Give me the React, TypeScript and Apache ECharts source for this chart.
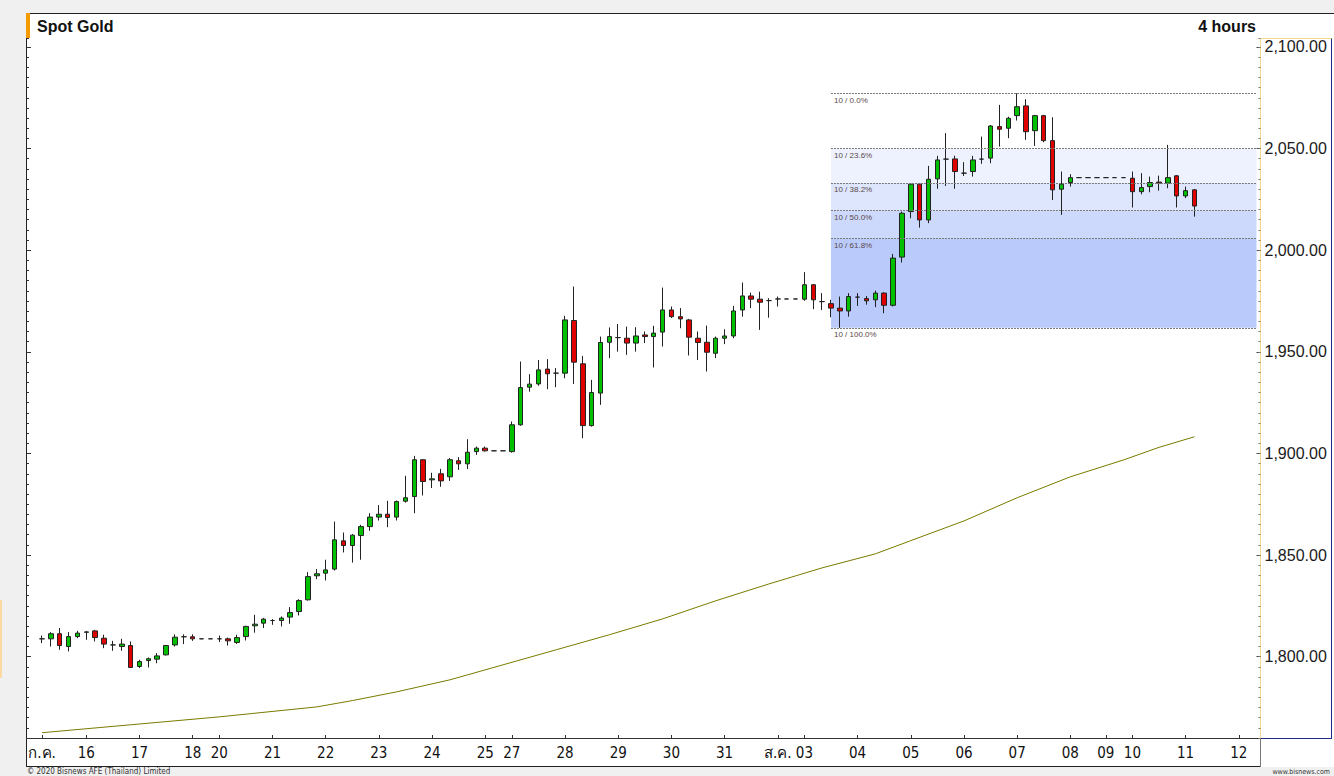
import React, { useEffect, useRef } from 'react';
import * as echarts from 'echarts';

// ---- x-axis days (label, number of 4-hour slots) ----
const dayLabels = ['ก.ค.', '16', '17', '18', '20', '21', '22', '23', '24', '25', '27', '28', '29', '30', '31', 'ส.ค.', '03', '04', '05', '06', '07', '08', '09', '10', '11', '12'];
const dayCounts = [5, 6, 6, 3, 6, 6, 6, 6, 6, 3, 6, 6, 6, 6, 6, 3, 6, 6, 6, 6, 6, 4, 3, 6, 6, 3];

// ---- 4-hour candles (slot 0 .. 130) ----
const opens = [
  1808.8, 1808.8, 1811.3, 1805.0, 1809.9, 1812.0, 1812.7, 1809.1, 1805.8, 1805.0,
  1805.5, 1795.2, 1798.1, 1798.8, 1800.9, 1805.8, 1809.8, 1809.8, 1808.8, 1808.8,
  1808.8, 1808.8, 1807.0, 1809.9, 1815.2, 1816.5, 1817.8, 1817.8, 1819.5, 1822.2,
  1828.0, 1839.8, 1841.1, 1843.1, 1857.0, 1854.7, 1859.6, 1864.0, 1868.7, 1870.1,
  1868.7, 1876.5, 1878.8, 1896.9, 1887.0, 1890.0, 1888.5, 1896.4, 1894.9, 1900.9,
  1902.6, 1901.3, 1901.3, 1900.9, 1914.1, 1932.6, 1934.2, 1941.5, 1939.5, 1939.5,
  1965.4, 1944.1, 1913.7, 1929.7, 1954.7, 1957.0, 1956.7, 1954.3, 1958.3, 1957.5,
  1959.7, 1970.6, 1967.3, 1965.7, 1956.7, 1954.7, 1949.3, 1956.7, 1957.8, 1970.6,
  1977.5, 1975.9, 1975.2, 1976.0, 1976.0, 1976.0, 1975.9, 1983.0, 1974.7, 1973.7,
  1971.5, 1970.1, 1976.9, 1976.2, 1975.6, 1978.9, 1972.9, 1996.6, 2019.0, 2032.5,
  2014.9, 2035.1, 2044.8, 2044.9, 2037.9, 2038.7, 2044.8, 2045.3, 2060.8, 2060.0,
  2066.2, 2071.0, 2058.8, 2066.2, 2053.9, 2030.0, 2033.3, 2035.7, 2035.7, 2035.7,
  2035.7, 2035.7, 2035.7, 2035.4, 2028.8, 2031.3, 2033.5, 2033.0, 2036.6, 2026.7,
  2029.7,
];
const closes = [
  1808.8, 1811.3, 1805.5, 1809.9, 1811.6, 1812.2, 1809.4, 1806.2, 1805.8, 1806.2,
  1794.7, 1797.6, 1799.0, 1800.4, 1805.5, 1809.6, 1809.8, 1808.8, 1808.8, 1808.8,
  1808.8, 1807.8, 1809.4, 1814.9, 1816.0, 1818.5, 1817.8, 1819.0, 1821.7, 1827.6,
  1839.4, 1840.8, 1842.7, 1857.5, 1854.7, 1859.8, 1864.0, 1868.7, 1870.1, 1868.5,
  1876.3, 1878.2, 1896.9, 1886.2, 1887.5, 1886.5, 1896.9, 1894.9, 1900.6, 1902.6,
  1901.3, 1901.3, 1901.3, 1914.1, 1932.4, 1934.1, 1941.1, 1939.2, 1939.5, 1965.7,
  1944.9, 1913.7, 1930.0, 1954.6, 1957.5, 1957.0, 1954.3, 1957.8, 1957.5, 1959.2,
  1970.6, 1967.3, 1966.2, 1957.2, 1954.6, 1949.8, 1956.7, 1957.8, 1970.1, 1977.5,
  1975.9, 1974.4, 1975.2, 1976.0, 1976.0, 1976.0, 1983.0, 1975.6, 1974.7, 1971.5,
  1970.1, 1977.2, 1976.9, 1975.1, 1978.9, 1972.9, 1996.1, 2018.2, 2032.5, 2014.9,
  2034.9, 2044.4, 2044.8, 2038.7, 2037.9, 2044.4, 2044.8, 2061.1, 2059.5, 2064.9,
  2070.6, 2058.3, 2066.2, 2053.9, 2029.7, 2032.5, 2035.7, 2035.7, 2035.7, 2035.7,
  2035.7, 2035.7, 2035.7, 2028.8, 2030.8, 2033.3, 2033.0, 2035.7, 2026.7, 2029.3,
  2021.72,
];
const lows = [
  1806.7, 1805.0, 1803.4, 1802.6, 1809.1, 1808.3, 1807.5, 1804.2, 1802.9, 1802.9,
  1794.4, 1794.4, 1794.7, 1796.8, 1800.6, 1805.0, 1806.2, 1807.8, 1808.8, 1808.8,
  1807.2, 1805.5, 1806.3, 1808.0, 1811.8, 1814.1, 1815.7, 1814.9, 1816.2, 1820.3,
  1827.6, 1838.2, 1837.5, 1842.4, 1851.3, 1846.3, 1847.7, 1861.9, 1867.0, 1863.7,
  1867.0, 1875.8, 1870.6, 1879.3, 1883.0, 1883.6, 1886.5, 1891.9, 1892.3, 1899.3,
  1900.9, 1901.3, 1901.3, 1900.4, 1913.6, 1930.4, 1933.3, 1931.6, 1932.6, 1937.0,
  1934.2, 1907.5, 1913.2, 1923.9, 1946.9, 1950.1, 1948.5, 1950.1, 1954.3, 1942.3,
  1952.6, 1966.6, 1961.6, 1948.2, 1946.0, 1940.3, 1946.9, 1953.8, 1956.7, 1967.3,
  1971.5, 1960.8, 1966.8, 1972.3, 1976.0, 1976.0, 1975.1, 1971.0, 1970.6, 1967.0,
  1961.8, 1967.3, 1972.6, 1973.2, 1972.0, 1969.0, 1972.3, 1993.9, 2015.7, 2011.1,
  2013.3, 2030.2, 2031.6, 2030.2, 2036.5, 2036.2, 2042.5, 2042.8, 2051.0, 2055.1,
  2063.8, 2054.3, 2051.3, 2053.1, 2024.7, 2017.4, 2031.3, 2035.7, 2035.7, 2035.7,
  2035.7, 2035.7, 2035.7, 2021.0, 2027.5, 2028.5, 2029.3, 2030.5, 2021.0, 2025.6,
  2016.5,
];
const highs = [
  1810.4, 1812.1, 1814.1, 1812.1, 1812.7, 1812.7, 1813.2, 1810.8, 1807.8, 1808.8,
  1807.5, 1798.5, 1799.6, 1801.8, 1805.8, 1811.0, 1811.0, 1811.0, 1808.8, 1808.8,
  1810.4, 1809.4, 1810.8, 1815.2, 1820.6, 1819.1, 1818.5, 1819.8, 1824.4, 1828.3,
  1841.6, 1843.1, 1847.7, 1866.5, 1861.1, 1860.3, 1864.9, 1870.6, 1874.6, 1876.7,
  1876.8, 1889.0, 1898.8, 1897.2, 1890.5, 1892.4, 1897.7, 1898.2, 1907.0, 1903.4,
  1903.4, 1901.3, 1901.3, 1915.7, 1945.2, 1939.0, 1946.0, 1946.4, 1942.0, 1967.7,
  1982.1, 1948.0, 1936.2, 1957.5, 1962.0, 1963.7, 1962.4, 1962.1, 1960.0, 1962.8,
  1981.6, 1972.3, 1971.5, 1966.2, 1960.0, 1962.9, 1957.5, 1961.1, 1972.6, 1984.1,
  1979.1, 1979.6, 1976.4, 1977.2, 1976.0, 1976.0, 1989.2, 1983.3, 1978.9, 1975.6,
  1977.2, 1978.9, 1978.9, 1977.5, 1980.1, 1979.3, 1998.2, 2019.0, 2033.0, 2033.0,
  2041.5, 2046.4, 2057.6, 2046.5, 2043.3, 2046.4, 2055.9, 2061.6, 2071.5, 2065.7,
  2077.2, 2074.3, 2066.6, 2066.6, 2065.4, 2038.7, 2037.4, 2035.7, 2035.7, 2035.7,
  2035.7, 2035.7, 2035.7, 2038.7, 2037.9, 2036.2, 2036.7, 2051.8, 2037.0, 2031.3,
  2030.0,
];

// ---- moving average line, points read at these slots ----
const maSlots = [0, 10, 20, 31, 35, 40, 46, 52, 58, 64, 70, 76, 82, 88, 94, 98, 104, 110, 116, 122, 126, 130];
const maValues = [1762.6, 1766.5, 1770.4, 1775.3, 1778.4, 1782.7, 1788.6, 1796.0, 1803.4, 1810.8, 1818.6, 1827.5, 1835.8, 1843.7, 1850.6, 1857.1, 1866.8, 1878.2, 1888.5, 1896.8, 1903.0, 1908.2];

// ---- Fibonacci retracement ----
const fibHigh = 2077.2;
const fibLow = 1961.8;
const fibStartSlot = 89;
const fibRatios = [0, 0.236, 0.382, 0.5, 0.618, 1];
const fibLabels = ['10 / 0.0%', '10 / 23.6%', '10 / 38.2%', '10 / 50.0%', '10 / 61.8%', '10 / 100.0%'];
const fibFills = ['', '#edf2fe', '#dde6fd', '#ccd9fc', '#bacbfb'];

const lastPrice = 2021.72;
const yMin = 1760;
const yMax = 2104.4;
const yLabelValues = [1800, 1850, 1900, 1950, 2000, 2050, 2100];

const fmt = (v: number) => v.toLocaleString('en-US', { minimumFractionDigits: 2, maximumFractionDigits: 2 });

export default function App() {
  const ref = useRef<HTMLDivElement>(null);

  useEffect(() => {
    if (!ref.current) return;
    const chart = echarts.init(ref.current, undefined, { renderer: 'svg' });

    const slotLabels: string[] = [];
    dayLabels.forEach((d, i) => {
      for (let k = 0; k < dayCounts[i]; k++) slotLabels.push(k === 0 ? d : '');
    });
    const cats = slotLabels.map((_, i) => 's' + i);
    const lastCat = cats[cats.length - 1];
    const showAt = (i: number) => slotLabels[i] !== '';

    const candles = opens.map((o, i) => [o, closes[i], lows[i], highs[i]]);
    const levels = fibRatios.map((r) => fibHigh - (fibHigh - fibLow) * r);

    const areas: any[] = [];
    for (let i = 0; i < levels.length - 1; i++) {
      if (!fibFills[i]) continue;
      areas.push([
        { xAxis: cats[fibStartSlot], yAxis: levels[i], itemStyle: { color: fibFills[i] } },
        { xAxis: lastCat, yAxis: levels[i + 1] },
      ]);
    }
    const lines: any[] = levels.map((lv, i) => [
      {
        coord: [cats[fibStartSlot], lv],
        lineStyle: { color: '#7a7a7a', width: 1, type: [2, 1] },
        label: {
          show: true,
          position: 'insideStartBottom',
          formatter: fibLabels[i],
          fontSize: 8,
          color: '#5a4848',
          distance: 3,
          fontFamily: 'Liberation Sans, Arial, sans-serif',
        },
      },
      { coord: [lastCat, lv] },
    ]);
    lines.push({
      yAxis: lastPrice,
      lineStyle: { opacity: 0 },
      label: {
        show: true,
        position: 'end',
        distance: 5,
        formatter: fmt(lastPrice),
        backgroundColor: '#3362d9',
        color: '#ffffff',
        fontSize: 16,
        padding: [2, 1, 1, 1],
        fontFamily: 'Liberation Sans, Arial, sans-serif',
      },
    });

    const sideAxis = (position: string, offset: number, extra: any) => ({
      type: 'value',
      position,
      offset,
      min: yMin,
      max: yMax,
      splitLine: { show: false },
      axisLine: { show: false },
      ...extra,
    });

    const option: any = {
      animation: false,
      textStyle: { fontFamily: 'Liberation Sans, Arial, sans-serif' },
      title: [
        { text: 'Spot Gold', left: 37, top: 18, padding: 0, textStyle: { fontSize: 16, fontWeight: 'bold', color: '#111' } },
        { text: '4 hours', right: 78, top: 18, padding: 0, textStyle: { fontSize: 16, fontWeight: 'bold', color: '#111' } },
        { text: '© 2020 Bisnews AFE (Thailand) Limited', left: 27, top: 767, padding: 0, textStyle: { fontSize: 8, fontWeight: 'normal', color: '#333', fontFamily: "'Liberation Sans Narrow', 'DejaVu Sans Condensed', 'Liberation Sans', sans-serif" } },
        { text: 'www.bisnews.com', right: 4, top: 768, padding: 0, textStyle: { fontSize: 7, fontWeight: 'normal', color: '#333', fontFamily: "'Liberation Sans Narrow', 'DejaVu Sans Condensed', 'Liberation Sans', sans-serif" } },
      ],
      grid: { left: 42, right: 77.5, top: 38, bottom: 38, containLabel: false },
      xAxis: {
        type: 'category',
        data: cats,
        boundaryGap: false,
        axisLine: { show: false },
        axisTick: { show: true, inside: true, length: 3, interval: (i: number) => showAt(i), lineStyle: { color: '#333' } },
        axisLabel: {
          interval: (i: number) => showAt(i),
          formatter: (_v: string, i: number) => slotLabels[i],
          fontSize: 15,
          color: '#111',
          margin: 7,
          fontFamily: "'Liberation Sans Narrow', 'DejaVu Sans Condensed', 'Liberation Sans', sans-serif",
        },
        splitLine: { show: false },
      },
      yAxis: [
        sideAxis('right', 4, {
          axisTick: { show: true, inside: true, length: 4, customValues: yLabelValues, lineStyle: { color: '#444' } },
          axisLabel: { customValues: yLabelValues, formatter: (v: number) => fmt(v), fontSize: 16, color: '#1a1a1a', margin: 4 },
        }),
        sideAxis('right', 4, {
          interval: 5,
          axisTick: { show: true, inside: true, length: 2, lineStyle: { color: '#777' } },
          axisLabel: { show: false },
        }),
        sideAxis('left', 15, {
          interval: 5,
          axisTick: { show: true, inside: true, length: 2, lineStyle: { color: '#333' } },
          axisLabel: { show: false },
        }),
        sideAxis('left', 15, {
          axisTick: { show: true, inside: true, length: 4, customValues: yLabelValues, lineStyle: { color: '#333' } },
          axisLabel: { show: false },
        }),
      ],
      series: [
        {
          type: 'candlestick',
          name: 'Spot Gold',
          data: candles,
          barWidth: 5,
          clip: false,
          itemStyle: { color: '#00c000', color0: '#e00000', borderColor: '#222', borderColor0: '#222', borderWidth: 1 },
          markArea: { silent: true, data: areas },
          markLine: { silent: true, symbol: ['none', 'none'], data: lines },
          z: 3,
        },
        {
          type: 'line',
          name: 'MA',
          data: maSlots.map((s, i) => [cats[s], maValues[i]]),
          symbol: 'none',
          lineStyle: { color: '#7a7a00', width: 1 },
          z: 2,
        },
      ],
    };
    chart.setOption(option);
    return () => chart.dispose();
  }, []);

  const abs = (s: React.CSSProperties): React.CSSProperties => ({ position: 'absolute', ...s });

  return (
    <div style={{ position: 'fixed', left: 0, top: 0, width: 1334, height: 776, background: '#f0f0f0', overflow: 'hidden' }}>
      <div style={abs({ left: 26, top: 13, width: 1308, height: 753, background: '#ffffff', borderTop: '1px solid #222', borderLeft: '1px solid #222' })} />
      <div style={abs({ left: 26, top: 13, width: 4, height: 25, background: '#f59b00' })} />
      <div style={abs({ left: 0, top: 600, width: 2, height: 78, background: '#fbd9a0' })} />
      <div style={abs({ left: 26, top: 738, width: 1234, height: 1, background: '#333' })} />
      <div style={abs({ left: 26, top: 766, width: 1234, height: 1, background: '#222' })} />
      <div style={abs({ left: 1260, top: 738, width: 1, height: 29, background: '#777' })} />
      <div style={abs({ left: 1260, top: 38, width: 70, height: 699, borderLeft: '1px solid #f3d98a', borderTop: '1px solid #f3d98a', borderRight: '1px solid #1c2c86', borderBottom: '1px solid #1c2c86' })} />
      <div ref={ref} style={abs({ left: 0, top: 0, width: 1334, height: 776 })} />
    </div>
  );
}
